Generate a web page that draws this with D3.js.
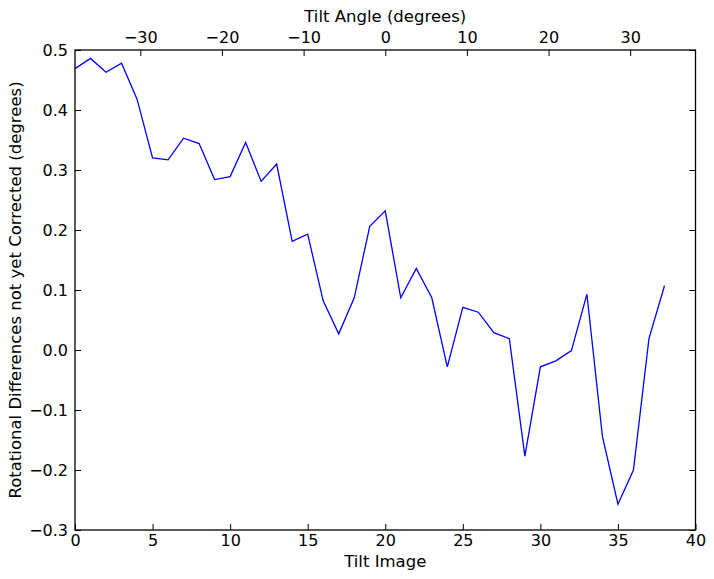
<!DOCTYPE html>
<html><head><meta charset="utf-8">
<script src="https://cdn.jsdelivr.net/npm/d3@7"></script>
<style>body{margin:0;background:#fff}text{font-family:"DejaVu Sans",sans-serif;fill:#000}</style>
</head><body>
<svg id="c" width="714" height="579"></svg>
<script>
const tiltImage = d3.range(0, 39);
const rotDiff = [0.469,0.486,0.463,0.478,0.418,0.320,0.317,0.353,0.344,0.284,0.289,0.346,0.281,0.310,0.181,0.193,0.082,0.027,0.087,0.206,0.232,0.087,0.136,0.087,-0.028,0.071,0.063,0.029,0.019,-0.177,-0.028,-0.018,-0.001,0.093,-0.144,-0.257,-0.200,0.019,0.107];
const xTicks = [0,5,10,15,20,25,30,35,40];
const yTicks = [-0.3,-0.2,-0.1,0.0,0.1,0.2,0.3,0.4,0.5];
const angleTicks = [-30,-20,-10,0,10,20,30];
const angleDomain = [-38, 38];

const L=75, R=695.5, T=50, B=530;
const svg = d3.select("#c");
const x = d3.scaleLinear().domain([0,40]).range([L,R]);
const xa = d3.scaleLinear().domain(angleDomain).range([L,R]);
const y = d3.scaleLinear().domain([-0.3,0.5]).range([B,T]);
const fmtMinus = s => s.replace("-", "\u2212");
const fs = 16, lfs = 16.5, tl = 6;

function style(g){ g.select(".domain").remove(); g.selectAll("line").attr("stroke","#000"); g.selectAll("text").attr("font-size",fs).attr("font-family","DejaVu Sans"); }

svg.append("g").attr("transform",`translate(0,${B})`)
  .call(d3.axisBottom(x).tickValues(xTicks).tickFormat(d=>fmtMinus(String(d))).tickSizeInner(-tl).tickPadding(5))
  .call(style);
svg.append("g").attr("transform",`translate(0,${T})`)
  .call(d3.axisTop(xa).tickValues(angleTicks).tickFormat(d=>fmtMinus(String(d))).tickSizeInner(-tl).tickPadding(7))
  .call(style);
svg.append("g").attr("transform",`translate(${L},0)`)
  .call(d3.axisLeft(y).tickValues(yTicks).tickFormat(d=>fmtMinus(d3.format(".1f")(d))).tickSizeInner(-tl).tickPadding(7))
  .call(style);
svg.append("g").attr("transform",`translate(${R},0)`)
  .call(d3.axisRight(y).tickValues(yTicks).tickFormat("").tickSizeInner(-tl))
  .call(style);

svg.append("path").datum(tiltImage)
  .attr("fill","none").attr("stroke","#0000ff").attr("stroke-width",1.3)
  .attr("d", d3.line().x(i=>x(i)).y(i=>y(rotDiff[i])));

svg.append("rect").attr("x",L).attr("y",T).attr("width",R-L).attr("height",B-T)
  .attr("fill","none").attr("stroke","#000").attr("stroke-width",1.3);

svg.append("text").attr("x",(L+R)/2).attr("y",567).attr("text-anchor","middle").attr("font-size",lfs).text("Tilt Image");
svg.append("text").attr("x",(L+R)/2).attr("y",22).attr("text-anchor","middle").attr("font-size",lfs).text("Tilt Angle (degrees)");
svg.append("text").attr("transform",`translate(21,${(T+B)/2}) rotate(-90)`).attr("text-anchor","middle").attr("font-size",lfs).text("Rotational Differences not yet Corrected (degrees)");
</script>
</body></html>
